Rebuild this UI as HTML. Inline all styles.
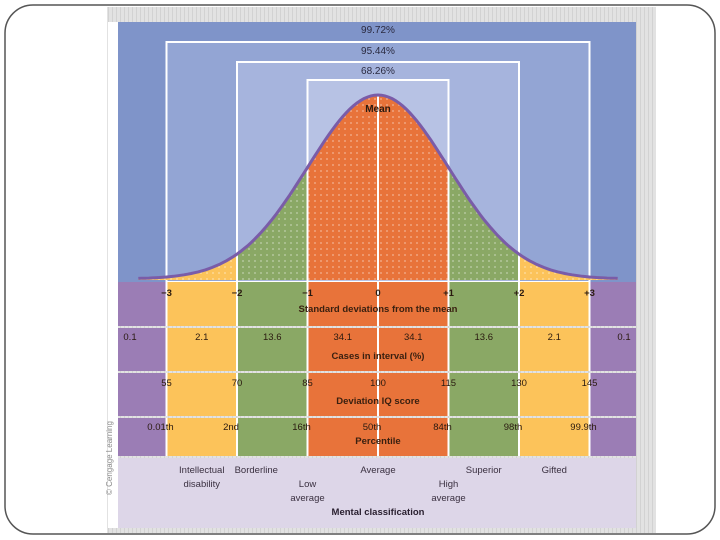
<!DOCTYPE html>
<html><head><meta charset="utf-8">
<style>
html,body{margin:0;padding:0;background:#fff;}
svg{display:block;font-family:"Liberation Sans",sans-serif;}
</style></head>
<body>
<svg id="c" width="720" height="540" viewBox="0 0 720 540" xmlns="http://www.w3.org/2000/svg">
<defs>
<pattern id="hatch" width="4" height="4" patternUnits="userSpaceOnUse"><rect width="4" height="4" fill="#e2e2e2"/><rect width="1" height="4" fill="#d2d2d2"/></pattern>
<pattern id="dots" width="6" height="6" patternUnits="userSpaceOnUse"><circle cx="3" cy="3" r="1" fill="#ffffff" fill-opacity="0.35"/></pattern>
<clipPath id="under"><path id="clipPath"/></clipPath>
</defs>
<rect x="5" y="5" width="710" height="529" rx="28" fill="#fff" stroke="#555" stroke-width="1.5"/>
<rect x="107" y="7" width="549" height="526" fill="url(#hatch)"/>
<rect x="108" y="22" width="10" height="506" fill="#fff"/>
<g id="plot"></g>
<text x="112" y="495" font-size="8" fill="#888" transform="rotate(-90 112 495)">© Cengage Learning</text>
</svg>
<script>
const sdTicks = ["−3","−2","−1","0","+1","+2","+3"];
const sdValues = [-3,-2,-1,0,1,2,3];
const casesPct = ["0.1","2.1","13.6","34.1","34.1","13.6","2.1","0.1"];
const iqScores = ["55","70","85","100","115","130","145"];
const percentiles = ["0.01th","2nd","16th","50th","84th","98th","99.9th"];
const coverage = ["99.72%","95.44%","68.26%"];
const classes = [["Intellectual","disability"],["Borderline"],["Low","average"],["Average"],["High","average"],["Superior"],["Gifted"]];
const classSd = [-2.5,-1.5,-1,0,1,1.5,2.5];
const classRow = [0,0,1,0,1,0,0];

const NS="http://www.w3.org/2000/svg";
const g=document.getElementById('plot');
const L=118,R=636,T=22,B=528,BASE=279,PEAK=95;
const sx=sd=>378+sd*70.5;
const pdf=z=>Math.exp(-z*z/2);
const sy=d=>BASE-d*(BASE-PEAK);
function el(tag,attrs,parent){const e=document.createElementNS(NS,tag);for(const k in attrs)e.setAttribute(k,attrs[k]);(parent||g).appendChild(e);return e;}
function txt(x,y,s,size,weight,color,anchor){const t=el('text',{x:x,y:y,'font-size':size,'font-weight':weight||'normal',fill:color||'#3a2a1a','text-anchor':anchor||'middle'});t.textContent=s;return t;}

let bg=el('rect',{x:L,y:T,width:R-L,height:BASE+3-T,fill:'#7f94c9'});


const boxFill=['#93a5d4','#a6b4dd','#b7c2e4'];
const boxTop=[42,62,80];
for(let i=0;i<3;i++){
  const a=sdValues[i],b=sdValues[6-i];
  const r=el('rect',{x:sx(a),y:boxTop[i],width:sx(b)-sx(a),height:BASE+3-boxTop[i],fill:boxFill[i],stroke:'#fff','stroke-width':2});
  
  
}
const labY=[33,54,74];
coverage.forEach((c,i)=>{const t=txt(378,labY[i],c,10,'normal','#2a2a40');

});

let pts=[];
for(let z=-3.4;z<=3.4001;z+=0.05){pts.push([sx(z),sy(pdf(z))]);}
const dPath='M'+pts.map(p=>p[0].toFixed(1)+','+p[1].toFixed(1)).join(' L');
document.getElementById('clipPath').setAttribute('d',dPath+' L'+sx(3.4)+','+(BASE+1)+' L'+sx(-3.4)+','+(BASE+1)+' Z');
const colColors=['#9b7db5','#fcc35a','#8aa865','#e8733a','#e8733a','#8aa865','#fcc35a','#9b7db5'];
const edges=[-3.6,-3,-2,-1,0,1,2,3,3.6];
const cg=el('g',{'clip-path':'url(#under)'});
for(let i=0;i<8;i++){
  let col=colColors[i]; if(i==0||i==7) col='#fcc35a';
  const r=el('rect',{x:sx(edges[i]),y:PEAK-5,width:sx(edges[i+1])-sx(edges[i]),height:BASE-PEAK+7,fill:col},cg);
  
  
}
el('rect',{x:L,y:PEAK-5,width:R-L,height:BASE-PEAK+7,fill:'url(#dots)'},cg);
[ -2,-1,0,1,2].forEach(s=>{el('line',{x1:sx(s),x2:sx(s),y1:PEAK,y2:BASE+2,stroke:'#fff','stroke-width':2},cg);});
let cv=el('path',{d:dPath,fill:'none',stroke:'#7a5ca8','stroke-width':3});


let mt=txt(378,112,'Mean',10,'bold','#2a1a10');



const rows=[[282,326],[328,371],[373,416],[418,456]];
const titles=['Standard deviations from the mean','Cases in interval (%)','Deviation IQ score','Percentile'];
const rowNames=['sd-row','cases-row','iq-row','percentile-row'];
rows.forEach((rw,ri)=>{
  for(let i=0;i<8;i++){
    const x0=i==0?L:sx(sdValues[i-1]), x1=i==7?R:sx(sdValues[i]);
    const r=el('rect',{x:x0,y:rw[0],width:x1-x0,height:rw[1]-rw[0],fill:colColors[i]});
    
    
  }
  sdValues.forEach(s=>{el('line',{x1:sx(s),x2:sx(s),y1:rw[0],y2:rw[1],stroke:'#fff','stroke-width':2});});
  const t=txt(378,rw[0]+(ri==3?26:(ri==0?30:31)),titles[ri],9.5,'bold','#3a2010');
  
  
});
sdTicks.forEach((s,i)=>{const t=txt(sx(sdValues[i]),296,s,9.5,'bold','#2a1a10');

});
casesPct.forEach((s,i)=>{const cx=i==0?130:(i==7?624:(sx(edges[i])+sx(edges[i+1]))/2);
const t=txt(cx,340,s,9.5,'normal','#2a1a10');

});
iqScores.forEach((s,i)=>{const t=txt(sx(sdValues[i]),386,s,9.5,'normal','#2a1a10');

});
percentiles.forEach((s,i)=>{const t=txt(sx(sdValues[i])-6,430,s,9.5,'normal','#2a1a10');

});

let cl=el('rect',{x:L,y:458,width:R-L,height:B-458,fill:'#ddd6e8'});


classes.forEach((lines,i)=>{
  const y0=classRow[i]?487:473;
  lines.forEach((ln,j)=>{const t=txt(sx(classSd[i])+(i==1?-16:0),y0+j*14,ln,9.5,'normal','#3a3040');
  
  });
});
let mc=txt(378,515,'Mental classification',9.5,'bold','#2a2030');


</script>
</body></html>
